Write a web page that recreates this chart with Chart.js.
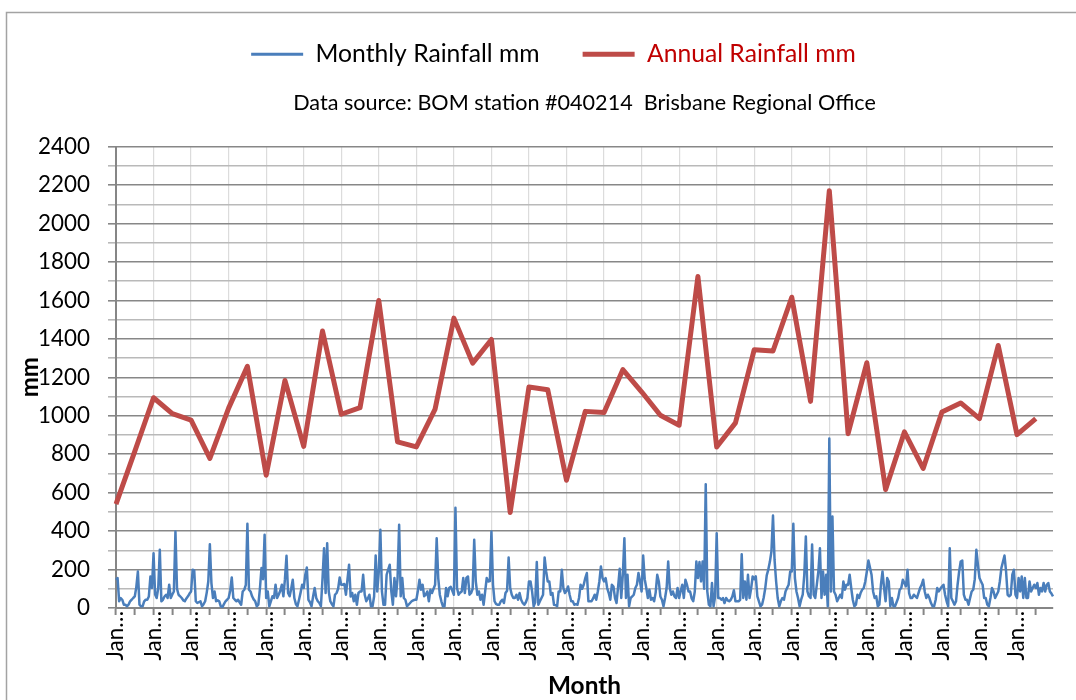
<!DOCTYPE html>
<html>
<head>
<meta charset="utf-8">
<title>Brisbane Rainfall</title>
<script src="https://cdn.jsdelivr.net/npm/chart.js@4.4.1/dist/chart.umd.min.js"></script>
<style>
  html, body { margin: 0; padding: 0; background: #ffffff; }
  #wrap { position: relative; width: 1076px; height: 700px; }
  canvas { display: block; }
</style>
</head>
<body>
<div id="wrap"><canvas id="chart" width="1076" height="700"></canvas></div>
<script>
// ---------------- data ----------------
const YEARS = [1936,1937,1938,1939,1940,1941,1942,1943,1944,1945,1946,1947,1948,1949,1950,
  1951,1952,1953,1954,1955,1956,1957,1958,1959,1960,1961,1962,1963,1964,1965,1966,1967,
  1968,1969,1970,1971,1972,1973,1974,1975,1976,1977,1978,1979,1980,1981,1982,1983,1984,1985];
const MONTH_NAMES = ['Jan','Feb','Mar','Apr','May','Jun','Jul','Aug','Sep','Oct','Nov','Dec'];

// Monthly rainfall (mm), one row per year, Jan..Dec
const MONTHLY_RAINFALL = [
  147,156, 35, 52, 43, 17, 17,  9, 17, 35, 43, 52,   // 1936
   60,110,190, 17,  9,  9, 35, 43, 43, 60,164,104,   // 1937
  285, 70, 52,104,303, 35, 43, 60, 69, 52,121, 52,   // 1938
   70, 86,398,100, 69, 61, 52, 40, 35, 50, 61, 75,   // 1939
   86,199,196, 35, 26, 30, 35,  9, 20, 35, 80,138,   // 1940
  332,130, 52, 86, 35, 40, 35,  9,  4, 20, 35, 43,   // 1941
   52, 90,159, 52, 43, 35, 43, 30, 17, 86, 95,120,   // 1942
  438, 95, 86, 61, 45, 35,  9, 17,100,208,150,381,   // 1943
   52, 86,  9, 35, 61, 52,121, 52, 69, 90,121, 61,   // 1944
  150,272, 78, 61,100,147, 52, 20,  9, 43, 80,121,   // 1945
  104,173,211, 43, 30,  9, 60,104, 52, 35, 26,  9,   // 1946
  150,311, 78,337, 86, 35, 20,  9, 69, 78,100,159,   // 1947
  121,121,125, 69,150,225, 60, 78, 35, 69, 17, 78,   // 1948
   86, 86,173, 69, 35, 50, 69,  9,  9, 60,273, 86,   // 1949
  190,407, 86, 17, 17,173,200,225, 86, 17,156, 61,   // 1950
  156,433, 61,156, 52, 43,  9, 17, 26, 35, 40, 43,   // 1951
   43, 90,147, 95,121, 61, 70, 86, 35, 95, 78,100,   // 1952
  121,363,156, 69, 35,  9,  9,104, 61,104,110, 90,   // 1953
   69,522,104, 69, 80, 86,156, 78,156,164, 69, 78,   // 1954
  100,355,138, 69, 86, 43, 69, 17, 86,156,138,140,   // 1955
  398,121, 35, 20, 17, 17, 35, 43, 26, 78, 90,263,   // 1956
  104, 69, 52, 52, 69, 43, 78, 43, 26, 17, 30, 52,   // 1957
  138,138, 86,  9, 30,239, 17, 35, 52, 69,263,190,   // 1958
  138,138, 69, 78, 17, 15,  9, 86, 86,199,104, 78,   // 1959
   90,112, 69, 35, 35, 17, 20, 17, 52,121,100,121,   // 1960
  156,182, 35, 35, 35, 50, 69, 43, 86,138,216,156,   // 1961
  138,156,104, 78, 43,121,112, 52, 26,112,204, 52,   // 1962
  173,363, 52,173,  9, 52, 60, 69,104,121,182,138,   // 1963
   86,273,150,104, 52, 95, 43, 52, 35, 80,173,138,   // 1964
   60, 43,  9, 52,104,242,104, 69, 86, 60, 52,104,   // 1965
   52, 90,121, 52,147,121, 86, 86, 50, 35, 86,242,   // 1966
  156,239,138,242,100,644, 86, 17,  9,130,  9, 60,   // 1967
  389, 52, 52, 43, 52, 26, 52, 40, 35, 43, 60, 92,   // 1968
   35, 35, 35, 43,280, 52,138, 43,173, 52,100,164,   // 1969
  150,165, 61, 35,  9, 17, 52,100,170,200,240,294,   // 1970
  481,250,138, 52,  9, 35, 52, 43, 86,104,121,190,   // 1971
  190,438,156, 86, 52,  9, 43, 69,173,372, 86, 61,   // 1972
   52,330, 69, 52,120,190,311, 52,190, 69,173,  9,   // 1973
  882, 86,476, 86, 69, 35, 52, 69, 52,138, 95,121,   // 1974
  120,173,104, 43,  9, 17, 69, 52, 78, 95,104,138,   // 1975
  190,247,210,173, 86, 52, 61,  9, 17,121,190,104,   // 1976
   35,156,138,  9, 52,  9,  9, 30, 52, 95,104,147,   // 1977
  130,112,199, 78, 52, 52, 69, 61, 52, 78,104,120,   // 1978
  147, 86, 52, 69, 52, 26,  9,  9, 43,104, 86,100,   // 1979
  112,121, 69, 35,  9,311, 52, 35, 17, 35,121,190,   // 1980
  242,247, 69, 43, 43, 17, 52, 86, 95,150,303,225,   // 1981
  156,138,121, 52, 52, 17,  9, 52,104, 86, 52, 69,   // 1982
   86,138,208,240,273,190, 69, 61, 69,173,199, 69,   // 1983
   52,156, 86,164, 52,156, 52, 52,138, 86,104,121,   // 1984
  104,130, 69,104, 86,130, 86,121,130, 86, 75, 61    // 1985
];

// Annual rainfall (mm), plotted at January of each year
const ANNUAL_RAINFALL = [540, 815,1094,1011, 977, 778,1040,1257, 691,1184,
  841,1441,1008,1042,1600, 864, 838,1035,1508,1274,
  1397, 497,1150,1136, 665,1023,1017,1240,1125,1003,
  951,1725, 838, 963,1344,1337,1617,1075,2171, 907,
  1276, 616, 916, 726,1020,1067, 985,1366, 902, 985];

const CATEGORIES = YEARS.flatMap(y => MONTH_NAMES.map(m => m + '-' + y));

const SERIES_LABELS = ['Monthly Rainfall mm', 'Annual Rainfall mm'];
const SUBTITLE = 'Data source: BOM station #040214  Brisbane Regional Office';
const X_TITLE = 'Month';
const Y_TITLE = 'mm';

// ---------------- styling ----------------
const FONT = 'Lato, "Open Sans", "Liberation Sans", sans-serif';
const BLUE = '#4a7ebb';
const RED = '#be4b48';
const RED_TEXT = '#c00000';
const MAJOR = '#878787';
const MINOR = '#b9b9b9';
const VGRID = '#dcdcdc';
const AXIS = '#868686';

function fitSize(text, weight, target) {
  const c = document.createElement('canvas').getContext('2d');
  c.font = weight + ' 100px ' + FONT;
  return Math.round(100 * target / c.measureText(text).width * 10) / 10;
}
const legendSize = fitSize(SERIES_LABELS[0], 'normal', 224);
const subSize = fitSize(SUBTITLE, 'normal', 583);
const tickSize = fitSize('2400', 'normal', 52);
const xTitleSize = fitSize(X_TITLE, 'bold', 73);
const yTitleSize = fitSize(Y_TITLE, 'bold', 40);

// layout targets
const PAD = { top: -1, left: 30, right: 23, bottom: 0 };
const LEGEND_H = 80;
const LEGEND_SHIFT = 12;
const subPadTop = 26 - 0.6 * subSize;
const subPadBottom = 44 - 0.6 * subSize;

const frame = {
  id: 'frame',
  beforeDraw(chart) {
    const c = chart.ctx;
    c.save();
    c.strokeStyle = '#a3a3a3';
    c.lineWidth = 1.5;
    c.strokeRect(6.5, 12.5, 1100, 720);
    c.restore();
  }
};

const legendShift = {
  id: 'legendShift',
  afterLayout(chart) {
    if (chart.legend) {
      chart.legend.left += LEGEND_SHIFT;
      chart.legend.right += LEGEND_SHIFT;
    }
  }
};

new Chart(document.getElementById('chart'), {
  type: 'line',
  data: {
    labels: CATEGORIES,
    datasets: [
      {
        label: SERIES_LABELS[0],
        data: MONTHLY_RAINFALL,
        borderColor: BLUE,
        backgroundColor: BLUE,
        borderWidth: 2.5,
        pointRadius: 0,
        tension: 0,
        borderJoinStyle: 'round'
      },
      {
        label: SERIES_LABELS[1],
        data: ANNUAL_RAINFALL.map((v, k) => ({ x: CATEGORIES[k * 12], y: v })),
        borderColor: RED,
        backgroundColor: RED,
        borderWidth: 5,
        pointRadius: 0,
        tension: 0,
        borderJoinStyle: 'round'
      }
    ]
  },
  options: {
    responsive: false,
    animation: false,
    layout: { padding: PAD },
    plugins: {
      tooltip: { enabled: false },
      legend: {
        position: 'top',
        weight: 3000,
        fullSize: true,
        maxHeight: LEGEND_H,
        labels: {
          usePointStyle: true,
          pointStyleWidth: 52,
          boxWidth: 52,
          padding: 43,
          color: '#000',
          font: { family: FONT, size: legendSize },
          generateLabels(chart) {
            return chart.data.datasets.map((ds, i) => ({
              text: ds.label,
              fontColor: i === 0 ? '#000000' : RED_TEXT,
              strokeStyle: ds.borderColor,
              fillStyle: ds.borderColor,
              lineWidth: i === 0 ? 3 : 5,
              lineCap: 'butt',
              pointStyle: 'line',
              hidden: false,
              datasetIndex: i
            }));
          }
        }
      },
      subtitle: {
        display: true,
        text: SUBTITLE,
        color: '#000',
        fullSize: false,
        font: { family: FONT, size: subSize, weight: 'normal' },
        padding: { top: subPadTop, bottom: subPadBottom }
      },
      title: { display: false }
    },
    scales: {
      x: {
        type: 'category',
        offset: false,
        afterFit(s) { s.height = 92; },
        border: { color: AXIS, width: 2 },
        grid: {
          offset: false,
          color: ctx => (ctx.index % 24 === 0 && ctx.index > 0) ? VGRID : 'rgba(0,0,0,0)',
          lineWidth: 1.2,
          drawTicks: true,
          tickLength: 7,
          tickWidth: 2,
          tickColor: ctx => (ctx.index % 12 === 0) ? AXIS : 'rgba(0,0,0,0)'
        },
        ticks: {
          autoSkip: false,
          maxRotation: 90,
          minRotation: 90,
          padding: -4,
          color: '#000',
          font: { family: FONT, size: tickSize },
          callback(value, index) {
            return index % 24 === 0 ? this.getLabelForValue(value).slice(0, 3) + '\u2026' : '';
          }
        },
        title: {
          display: true,
          text: X_TITLE,
          color: '#000',
          font: { family: FONT, size: xTitleSize, weight: 'bold' },
          padding: { top: 0, bottom: -1 }
        }
      },
      y: {
        min: 0,
        max: 2400,
        afterFit(s) { s.width = 116 - PAD.left; },
        border: { color: AXIS, width: 2 },
        grid: {
          color: ctx => (ctx.tick && ctx.tick.value % 200 === 0) ? MAJOR : MINOR,
          lineWidth: 1.6,
          drawTicks: true,
          tickLength: 8
        },
        ticks: {
          stepSize: 100,
          autoSkip: false,
          padding: 18,
          color: '#000',
          font: { family: FONT, size: tickSize },
          callback: v => (v % 200 === 0 ? String(v) : '')
        },
        title: {
          display: true,
          text: Y_TITLE,
          color: '#000',
          font: { family: FONT, size: yTitleSize, weight: 'bold' },
          padding: { top: 30 - PAD.left - yTitleSize * 0.6, bottom: 0 }
        }
      }
    }
  },
  plugins: [frame, legendShift]
});
</script>
</body>
</html>
